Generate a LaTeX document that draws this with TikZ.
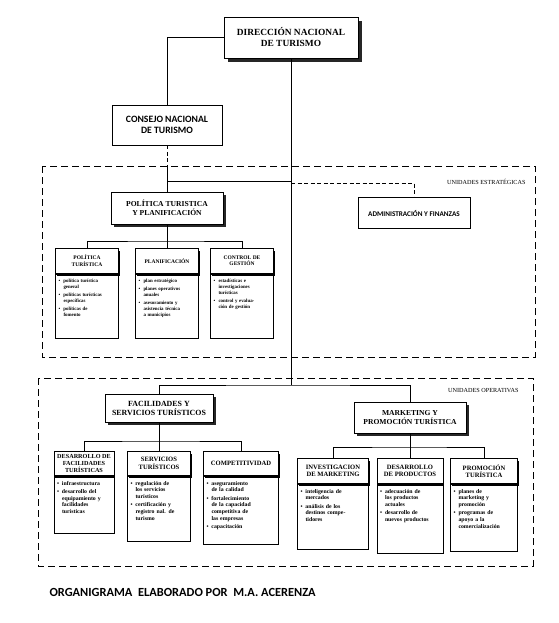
\documentclass[tikz,border=0pt]{standalone}
\usepackage{fontspec}
\setmainfont{Liberation Serif}
\newfontfamily\calib{Carlito}
\usetikzlibrary{shadows}
\tikzset{
  topbox/.style={draw, thick, fill=white, align=center, inner sep=2pt,
                 font=\bfseries\fontsize{9.4}{11}\selectfont,
                 drop shadow={shadow xshift=4pt, shadow yshift=-4pt, fill=black!85, opacity=1}},
  consbox/.style={draw, thick, fill=white, align=center, inner sep=2pt,
                  minimum width=110pt, minimum height=40pt,
                  font=\calib\bfseries\fontsize{9.7}{11.5}\selectfont},
  midbox/.style={draw, thick, fill=white, align=center, inner sep=2pt,
                 font=\bfseries\fontsize{7.6}{9}\selectfont,
                 drop shadow={shadow xshift=2.5pt, shadow yshift=-3pt, fill=black!85, opacity=1}},
  admbox/.style={draw, thick, fill=white, align=center, inner sep=2pt,
                 minimum width=112pt, minimum height=31pt,
                 font=\calib\bfseries\fontsize{7.2}{8.5}\selectfont},
  hdr/.style={draw, thick, fill=white, align=center, anchor=north, inner sep=1pt,
              font=\bfseries\fontsize{6.6}{7.3}\selectfont,
              drop shadow={shadow xshift=1pt, shadow yshift=-2.5pt, fill=black, opacity=1}},
  body/.style={draw, semithick, anchor=north, inner xsep=3pt, inner ysep=5pt, align=left,
               font=\bfseries\fontsize{5.8}{6.7}\selectfont},
  grp/.style={thick, dash pattern=on 7pt off 4pt},
  grplbl/.style={anchor=east, font=\fontsize{6.2}{7}\selectfont},
  ln/.style={thick},
  dln/.style={thick, dash pattern=on 4pt off 2.5pt},
}
\newcommand\bx[2]{\parbox[t][#1][t]{\linewidth}{#2}}
\newcommand\bul{\hangindent=5pt\hangafter=1\noindent\makebox[5pt][l]{\textbullet}}
\newcommand\nb{\par\vspace{1.5pt}}

\begin{document}
\begin{tikzpicture}[x=1pt,y=-1pt]
\useasboundingbox (0,0) rectangle (558,623);

% group frames
\draw[grp] (42,166) rectangle (535,357);
\draw[grp] (38,378) rectangle (533,566);
\node[grplbl] (lblest) at (529,182) {UNIDADES ESTRATÉGICAS};
\node[grplbl] (lblop) at (522,390) {UNIDADES OPERATIVAS};

% top levels
\node[topbox, minimum width=134pt, minimum height=41pt] (dir) at (291,37.5) {DIRECCIÓN NACIONAL\\DE TURISMO};
\node[consbox] (cons) at (167,125) {CONSEJO NACIONAL\\DE TURISMO};
\node[midbox, minimum width=112pt, minimum height=32pt] (pol) at (167,208) {POLÍTICA TURISTICA\\Y PLANIFICACIÓN};
\node[admbox] (adm) at (414,213) {ADMINISTRACIÓN Y FINANZAS};
\node[midbox, minimum width=108pt, minimum height=28pt, font=\bfseries\fontsize{7.9}{9}\selectfont] (fac) at (159,408) {FACILIDADES Y\\SERVICIOS TURÍSTICOS};
\node[midbox, minimum width=112pt, minimum height=31pt] (mkt) at (410,417.5) {MARKETING Y\\PROMOCIÓN TURÍSTICA};

% estrategicas
\node[hdr, minimum width=63pt, minimum height=25pt, font=\bfseries\fontsize{5.5}{6.5}\selectfont] (h11) at (87,248) {POLÍTICA\\TURÍSTICA};
\node[hdr, minimum width=63pt, minimum height=25pt, font=\bfseries\fontsize{5.5}{6.5}\selectfont] (h12) at (167,248) {PLANIFICACIÓN};
\node[hdr, minimum width=63pt, minimum height=25pt, font=\bfseries\fontsize{5.5}{6.5}\selectfont] (h13) at (242,248) {CONTROL DE\\GESTIÓN};
\node[body, text width=57pt, font=\bfseries\fontsize{4.9}{6.2}\selectfont] (p11) at (h11.south)
  {\bx{54pt}{\bul política turística\\general\nb\bul políticas turísticas\\específicas\nb\bul políticas de\\fomento}};
\node[body, text width=57pt, font=\bfseries\fontsize{4.9}{6.2}\selectfont] (p12) at (h12.south)
  {\bx{54pt}{\bul plan estratégico\nb\bul planes operativos\\anuales\nb\bul asesoramiento y\\asistencia técnica\\a municipios}};
\node[body, text width=57pt, font=\bfseries\fontsize{4.9}{6.2}\selectfont] (p13) at (h13.south)
  {\bx{54pt}{\bul estadísticas e\\investigaciones\\turísticas\nb\bul control y evalua-\\ción de gestión}};

% operativas: facilidades
\node[hdr, minimum width=60pt, minimum height=24pt, font=\bfseries\fontsize{6.2}{7}\selectfont] (f1) at (84,451) {DESARROLLO DE\\FACILIDADES\\TURÍSTICAS};
\node[hdr, minimum width=63pt, minimum height=24pt] (f2) at (159,451) {SERVICIOS\\TURÍSTICOS};
\node[hdr, minimum width=75pt, minimum height=24pt] (f3) at (241,451) {COMPETITIVIDAD};
\node[body, text width=54pt] (q1) at (f1.south)
  {\bx{47pt}{\bul infraestructura\nb\bul desarrollo del\\equipamiento y\\facilidades\\turísticas}};
\node[body, text width=57pt] (q2) at (f2.south)
  {\bx{55pt}{\bul regulación de\\los servicios\\turísticos\nb\bul certificación y\\registro nal. de\\turismo}};
\node[body, text width=69pt] (q3) at (f3.south)
  {\bx{58pt}{\bul aseguramiento\\de la calidad\nb\bul fortalecimiento\\de la capacidad\\competitiva de\\las empresas\nb\bul capacitación}};

% operativas: marketing
\node[hdr, minimum width=71pt, minimum height=25pt] (m1) at (333,458) {INVESTIGACION\\DE MARKETING};
\node[hdr, minimum width=66pt, minimum height=25pt] (m2) at (410,458) {DESARROLLO\\DE PRODUCTOS};
\node[hdr, minimum width=67pt, minimum height=25pt] (m3) at (484,458) {PROMOCIÓN\\TURÍSTICA};
\node[body, text width=65pt] (r1) at (m1.south)
  {\bx{55pt}{\bul inteligencia de\\mercados\nb\bul análisis de los\\destinos compe-\\tidores}};
\node[body, text width=60pt] (r2) at (m2.south)
  {\bx{59pt}{\bul adecuación de\\los productos\\actuales\nb\bul desarrollo de\\nuevos productos}};
\node[body, text width=61pt] (r3) at (m3.south)
  {\bx{57pt}{\bul planes de\\marketing y\\promoción\nb\bul programas de\\apoyo a la\\comercialización}};

% junctions
\coordinate (j1) at (167,166);
\coordinate (j2) at (167,181);
\coordinate (j3) at (291,183);
\coordinate (b1) at (167,241);
\coordinate (b2) at (291,385);
\coordinate (b3) at (159,441);
\coordinate (b4) at (410,447);

% connectors
\draw[ln] (dir.west) -| (cons.north);
\draw[dln] (cons.south) -- (j1);
\draw[ln] (j1) -- (pol.north);
\draw[ln] (j2) -- (j2 -| dir.south);
\draw[ln] (dir.south) -- (b2);
\draw[dln] (j3) -| (adm.north);
\draw[ln] (pol.south) -- (b1);
\draw[ln] (h11.north) |- (b1) -| (h13.north);
\draw[ln] (h12.north) -- (b1);
\draw[ln] (fac.north) |- (b2) -| (mkt.north);
\draw[ln] (fac.south) -- (b3);
\draw[ln] (f1.north) |- (b3) -| (f3.north);
\draw[ln] (f2.north) -- (b3);
\draw[ln] (mkt.south) -- (b4);
\draw[ln] (m1.north) |- (b4) -| (m3.north);
\draw[ln] (m2.north) -- (b4);

\node[anchor=west, font=\calib\bfseries\fontsize{12.4}{14}\selectfont] (cap) at (46,592)
  {ORGANIGRAMA\ \ ELABORADO POR\ \ M.A. ACERENZA};
\end{tikzpicture}
\end{document}
